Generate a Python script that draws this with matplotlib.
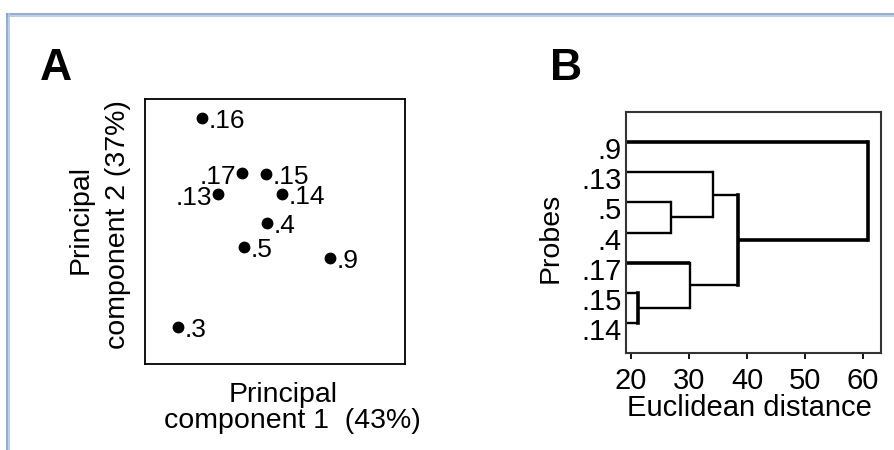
import matplotlib
matplotlib.use("Agg")
import matplotlib.pyplot as plt
from matplotlib.lines import Line2D
from matplotlib.transforms import ScaledTranslation

plt.rcParams['font.family'] = ['Liberation Sans', 'DejaVu Sans']

# panel A: PCA scores (axis units are arbitrary)
probes = [".16", ".17", ".15", ".13", ".14", ".4", ".5", ".9", ".3"]
pc1 = [0.219, 0.373, 0.465, 0.281, 0.527, 0.469, 0.381, 0.712, 0.127]
pc2 = [0.928, 0.721, 0.717, 0.642, 0.642, 0.532, 0.442, 0.400, 0.140]
left_labelled = [".17", ".13"]

# panel B: dendrogram, leaves top to bottom and merges (cluster "cN" = merge N)
leaves = [".9", ".13", ".5", ".4", ".17", ".15", ".14"]
merge_a = [".15", ".5", ".17", ".13", "c3", ".9"]
merge_b = [".14", ".4", "c0", "c1", "c2", "c4"]
merge_h = [21.2, 26.9, 30.2, 34.1, 38.4, 60.9]
dist_ticks = [20, 30, 40, 50, 60]

fig = plt.figure(figsize=(8.95, 4.5), dpi=100)

# light blue frame lines at top and left
for y, c in [(1 - 13.5 / 450, '#7f9fd0'), (1 - 15.5 / 450, '#b0c6e6')]:
    fig.add_artist(Line2D([7 / 895, 1], [y, y], transform=fig.transFigure, color=c, lw=1.2))
for x, c in [(7.5 / 895, '#7f9fd0'), (9.5 / 895, '#b0c6e6')]:
    fig.add_artist(Line2D([x, x], [0, 1 - 13.5 / 450], transform=fig.transFigure, color=c, lw=1.2))

# ---- A ----
ax = fig.add_axes([145 / 895, 1 - 364 / 450, 260 / 895, 265 / 450])
ax.plot(pc1, pc2, 'o', color='black', ms=7.5)
for name, x, y in zip(probes, pc1, pc2):
    if name in left_labelled:
        ax.annotate(name, (x, y), xytext=(-4, -3), textcoords='offset points',
                    ha='right', va='center', fontsize=19)
    else:
        ax.annotate(name, (x, y), xytext=(5, -2), textcoords='offset points',
                    ha='left', va='center', fontsize=19)
ax.set_xlim(0, 1)
ax.set_ylim(0, 1)
ax.set_xticks([])
ax.set_yticks([])
for s in ax.spines.values():
    s.set_linewidth(1.3)

fig.text(40 / 895, 1 - 80 / 450, "A", fontsize=32, fontweight='bold', va='baseline')
fig.text(283 / 895, 1 - 402 / 450, "Principal", fontsize=20.5, ha='center', va='baseline')
fig.text(292 / 895, 1 - 428 / 450, "component 1  (43%)", fontsize=20.5, ha='center', va='baseline')
fig.text(88 / 895, 1 - 220 / 450, "Principal", fontsize=20.5, rotation=90,
         rotation_mode='anchor', ha='center', va='baseline')
fig.text(125 / 895, 1 - 225 / 450, "component 2 (37%)", fontsize=20.5, rotation=90,
         rotation_mode='anchor', ha='center', va='baseline')

# ---- B ----
bx = fig.add_axes([626 / 895, 1 - 353 / 450, 255 / 895, 241 / 450])
xmin, xmax = 19.14, 63.1
bx.set_xlim(xmin, xmax)
bx.set_ylim(7, -1)

pos = {name: (xmin, i) for i, name in enumerate(leaves)}
thick = {".9", "c4", ".17"}
for k, (a, b, h) in enumerate(zip(merge_a, merge_b, merge_h)):
    (xa, ya), (xb, yb) = pos[a], pos[b]
    lw_a = 2.6 if a in thick else 1.7
    lw_b = 2.6 if b in thick else 1.7
    lw_v = 2.6 if k in (0, 4, 5) else 1.7
    bx.plot([xa, h], [ya, ya], color='black', lw=lw_a, solid_capstyle='butt')
    bx.plot([xb, h], [yb, yb], color='black', lw=lw_b, solid_capstyle='butt')
    bx.plot([h, h], [ya, yb], color='black', lw=lw_v, solid_capstyle='projecting')
    pos["c%d" % k] = (h, (ya + yb) / 2)

bx.set_yticks(range(len(leaves)))
bx.set_yticklabels(leaves, fontsize=21)
bx.tick_params(axis='y', length=0, pad=3)
for lab in bx.get_yticklabels():
    lab.set_transform(lab.get_transform() + ScaledTranslation(0, -6 / 100, fig.dpi_scale_trans))
bx.set_xticks(dist_ticks)
bx.set_xticklabels([str(t) for t in dist_ticks], fontsize=21)
bx.tick_params(axis='x', direction='out', length=4, width=1.3, pad=6)
for s in bx.spines.values():
    s.set_linewidth(1.5)
    s.set_color('#333333')

fig.text(550 / 895, 1 - 80 / 450, "B", fontsize=32, fontweight='bold', va='baseline')
fig.text(558 / 895, 1 - 238 / 450, "Probes", fontsize=20.5, rotation=90,
         rotation_mode='anchor', ha='center', va='baseline')
fig.text(749 / 895, 1 - 416 / 450, "Euclidean distance", fontsize=21, ha='center', va='baseline')

fig.savefig("out.png", dpi=100)
